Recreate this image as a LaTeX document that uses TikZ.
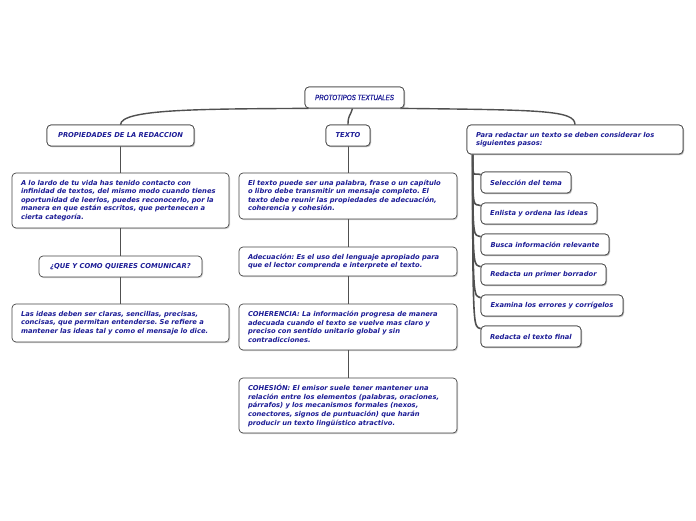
\documentclass[tikz,border=0pt]{standalone}
\usepackage{fontspec}
\usetikzlibrary{shadows}
\newfontfamily\vfont{DejaVu Sans}
\newfontfamily\rfont[FakeStretch=0.82,FakeBold=0.6]{Liberation Sans}
\definecolor{txtblue}{RGB}{28,28,150}
\definecolor{edgegray}{RGB}{80,80,80}
\definecolor{bordergray}{RGB}{70,70,70}
\frenchspacing
\begin{document}
\begin{tikzpicture}[x=1pt,y=-1pt,
  bx/.style={draw=bordergray, line width=0.7pt, rounded corners=4pt, fill=white,
    drop shadow={shadow xshift=1pt, shadow yshift=-1.2pt, opacity=0.35},
    text=txtblue, font=\frenchspacing\vfont\bfseries\itshape\fontsize{6.75}{8.6}\selectfont,
    inner xsep=9pt, inner ysep=0pt},
  rootfont/.style={font=\rfont\itshape\fontsize{7.6}{8}\selectfont},
  ml/.style={align=left},
  conn/.style={draw=edgegray, line width=1.4pt},
  thin/.style={draw=edgegray, line width=1pt}]
\useasboundingbox (0,0) rectangle (696,520);
\fill[white] (0,0) rectangle (696,520);
% root
\node[bx, rootfont, minimum width=99pt, minimum height=21pt] (root) at (354.5,97.5) {PROTOTIPOS TEXTUALES};
% level 1
\node[bx, minimum width=147pt, minimum height=21pt] (prop) at (120.5,135.5) {PROPIEDADES DE LA REDACCION};
\node[bx, minimum width=44pt, minimum height=21pt] (texto) at (348,135.5) {TEXTO};
\node[bx, ml, text width=198pt, minimum height=29pt] (para) at (575,139.5) {Para redactar un texto se deben considerar los\\siguientes pasos:};
% left column
\node[bx, ml, text width=199pt, minimum height=55pt] (lardo) at (120.5,200.5) {A lo lardo de tu vida has tenido contacto con\\infinidad de textos, del mismo modo cuando tienes\\oportunidad de leerlos, puedes reconocerlo, por la\\manera en que están escritos, que pertenecen a\\cierta categoría.};
\node[bx, minimum width=163pt, minimum height=21pt] (que) at (120.5,266.5) {¿QUE Y COMO QUIERES COMUNICAR?};
\node[bx, ml, text width=199pt, minimum height=38pt] (ideas) at (120.5,323) {Las ideas deben ser claras, sencillas, precisas,\\concisas, que permitan entenderse. Se refiere a\\mantener las ideas tal y como el mensaje lo dice.};
% middle column
\node[bx, ml, text width=200pt, minimum height=46pt] (eltexto) at (348,196) {El texto puede ser una palabra, frase o un capítulo\\o libro debe transmitir un mensaje completo. El\\texto debe reunir las propiedades de adecuación,\\coherencia y cohesión.};
\node[bx, ml, text width=200pt, minimum height=29pt] (adec) at (348,261.5) {Adecuación: Es el uso del lenguaje apropiado para\\que el lector comprenda e interprete el texto.};
\node[bx, ml, text width=200pt, minimum height=46pt] (coher) at (348,327) {COHERENCIA: La información progresa de manera\\adecuada cuando el texto se vuelve mas claro y\\preciso con sentido unitario global y sin\\contradicciones.};
\node[bx, ml, text width=200pt, minimum height=55pt] (cohes) at (348,405.5) {COHESIÓN: El emisor suele tener mantener una\\relación entre los elementos (palabras, oraciones,\\párrafos) y los mecanismos formales (nexos,\\conectores, signos de puntuación) que harán\\producir un texto lingüístico atractivo.};
% steps
\node[bx, minimum width=90pt, minimum height=21pt] (s1) at (526,182.5) {Selección del tema};
\node[bx, minimum width=116pt, minimum height=21pt] (s2) at (539,213.5) {Enlista y ordena las ideas};
\node[bx, minimum width=128pt, minimum height=21pt] (s3) at (545,244.5) {Busca información relevante};
\node[bx, minimum width=125pt, minimum height=21pt] (s4) at (543.5,274.5) {Redacta un primer borrador};
\node[bx, minimum width=142pt, minimum height=21pt] (s5) at (552,305.5) {Examina los errores y corrígelos};
\node[bx, minimum width=100pt, minimum height=21pt] (s6) at (531,336.5) {Redacta el texto final};
% connectors from root
\draw[conn] ([xshift=4pt]root.south west) .. controls (200,109) and (121,109) .. (prop.north);
\draw[conn] ([xshift=-4pt]root.south east) .. controls (540,110) and (575,110) .. (para.north);
\draw[conn] ([xshift=-2pt]root.south) .. controls (350,117) and (348,115) .. (texto.north);
% left column
\draw[thin] (prop.south) -- (lardo.north);
\draw[thin] (lardo.south) -- (que.north);
\draw[thin] (que.south) -- (ideas.north);
% middle column
\draw[thin] (texto.south) -- (eltexto.north);
\draw[thin] (eltexto.south) -- (adec.north);
\draw[thin] (adec.south) -- (coher.north);
\draw[thin] (coher.south) -- (cohes.north);
% steps
\foreach \s in {s1,s2,s3,s4,s5,s6}{
  \draw[conn, line width=1.6pt] ([xshift=6pt]para.south west) .. controls ([xshift=6pt]para.south west |- \s.west) and ([xshift=-7pt]\s.north west) .. ([yshift=-3pt]\s.north west);
}
% nodes redrawn over connectors
\node[bx, rootfont, minimum width=99pt, minimum height=21pt] at (root) {PROTOTIPOS TEXTUALES};
\node[bx, minimum width=147pt, minimum height=21pt] at (prop) {PROPIEDADES DE LA REDACCION};
\node[bx, minimum width=44pt, minimum height=21pt] at (texto) {TEXTO};
\node[bx, ml, text width=198pt, minimum height=29pt] at (para) {Para redactar un texto se deben considerar los\\siguientes pasos:};
\node[bx, minimum width=90pt, minimum height=21pt] at (s1) {Selección del tema};
\node[bx, minimum width=116pt, minimum height=21pt] at (s2) {Enlista y ordena las ideas};
\node[bx, minimum width=128pt, minimum height=21pt] at (s3) {Busca información relevante};
\node[bx, minimum width=125pt, minimum height=21pt] at (s4) {Redacta un primer borrador};
\node[bx, minimum width=142pt, minimum height=21pt] at (s5) {Examina los errores y corrígelos};
\node[bx, minimum width=100pt, minimum height=21pt] at (s6) {Redacta el texto final};
\end{tikzpicture}
\end{document}
